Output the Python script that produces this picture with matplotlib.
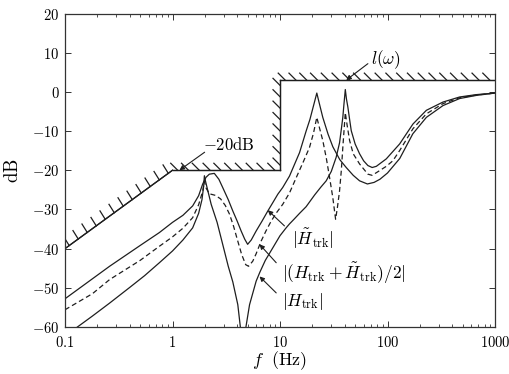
import matplotlib
matplotlib.use('Agg')
import matplotlib.pyplot as plt
from matplotlib import patheffects
import numpy as np

plt.rcParams['mathtext.fontset'] = 'cm'
plt.rcParams['font.family'] = 'serif'

# |H~_trk| (upper solid at low f)
htilde_f = [0.1, 0.26, 0.5, 0.755, 1.0, 1.25, 1.54, 1.75, 1.91, 2.05, 2.2, 2.45, 2.7, 2.93,
            3.3, 3.64, 4.0, 4.35, 4.7, 5.0, 5.4, 6.0, 6.8, 7.7, 8.6, 9.55, 10.6, 12.25, 15.2,
            17.5, 19.0, 20.2, 21.2, 22.0, 23.0, 25.0, 28.0, 31.0, 36.0, 41.3, 48.0, 55.0, 65.0,
            75.0, 85.0, 100.0, 130.0, 172.0, 230.0, 328.0, 469.0, 671.0, 1000.0]
htilde_db = [-52.8, -44.5, -39.2, -35.9, -33.3, -31.5, -29.1, -26.5, -23.5, -21.8, -21.0, -20.8,
             -22.3, -24.4, -27.5, -30.4, -33.0, -35.5, -37.6, -38.9, -37.8, -35.5, -33.0, -30.4,
             -28.2, -26.1, -24.4, -21.5, -15.5, -10.0, -7.0, -4.2, -2.0, -0.3, -2.5, -6.5, -10.8,
             -14.0, -17.3, -19.3, -21.3, -22.7, -23.5, -23.1, -22.3, -20.7, -17.0, -10.7, -6.5,
             -3.5, -1.7, -0.9, -0.3]

# |H_trk| (lower solid at low f, notch near 4.5 Hz)
h_f = [0.126, 0.18, 0.26, 0.4, 0.55, 0.755, 1.0, 1.25, 1.54, 1.75, 1.88, 1.95, 1.98, 2.02, 2.1,
       2.29, 2.6, 2.93, 3.3, 3.64, 4.05, 4.29, 4.55, 4.8, 5.21, 6.0, 6.5, 7.3, 8.57, 10.0, 11.4,
       12.25, 13.5, 15.2, 17.5, 21.0, 24.0, 26.9, 30.0, 33.3, 35.8, 37.2, 38.4, 39.3, 40.5, 41.5,
       42.8, 44.4, 46.0, 50.0, 55.0, 60.0, 65.7, 72.0, 78.7, 97.4, 129.6, 172.5, 230.0, 328.0,
       469.0, 671.0, 1000.0]
h_db = [-60.3, -57.2, -53.9, -49.9, -46.9, -43.6, -40.6, -37.8, -34.7, -31.0, -27.5, -24.0, -21.4,
        -22.6, -24.5, -28.7, -33.3, -38.9, -44.5, -48.5, -54.3, -60.3, -75.0, -60.3, -54.3, -48.3,
        -46.0, -43.0, -39.8, -36.7, -34.7, -33.7, -32.5, -31.0, -29.3, -26.3, -24.3, -22.7, -20.3,
        -16.7, -13.0, -9.5, -6.5, -3.3, 0.6, -1.8, -3.9, -7.0, -9.9, -13.3, -15.8, -17.6, -18.8,
        -19.3, -19.0, -17.1, -13.3, -8.2, -4.7, -2.6, -1.3, -0.7, -0.3]

# |(H_trk + H~_trk)/2| (dashed)
avg_f = [0.1, 0.18, 0.26, 0.5, 0.755, 1.0, 1.25, 1.54, 1.75, 1.91, 1.98, 2.05, 2.2, 2.5, 2.8, 3.1,
         3.39, 3.7, 4.05, 4.4, 4.8, 5.1, 5.58, 6.0, 6.67, 7.4, 8.27, 9.3, 10.6, 12.25, 14.2, 16.5,
         18.8, 20.5, 22.0, 23.2, 25.0, 27.0, 28.9, 31.0, 32.9, 34.2, 35.8, 37.2, 38.4, 39.5, 40.5,
         42.0, 44.4, 48.0, 55.0, 65.7, 72.0, 84.4, 97.4, 112.0, 129.6, 172.5, 230.0, 328.0, 469.0,
         671.0, 1000.0]
avg_db = [-55.6, -51.5, -47.9, -43.0, -39.4, -37.0, -34.8, -32.1, -28.8, -25.3, -22.8, -24.5,
          -26.0, -26.4, -27.3, -29.0, -31.2, -34.3, -38.1, -41.5, -44.1, -44.5, -43.2, -41.3,
          -38.1, -35.5, -33.0, -30.8, -28.7, -25.8, -21.8, -17.8, -14.2, -10.5, -6.5, -9.0, -12.4,
          -17.0, -21.8, -27.0, -32.5, -29.5, -25.3, -20.0, -14.2, -9.5, -5.3, -8.3, -12.4, -15.8,
          -18.4, -21.0, -21.3, -20.1, -19.0, -17.6, -15.0, -9.4, -5.6, -3.0, -1.5, -0.8, -0.3]

# bound l(w)
bound_f = [0.1, 1, 10, 10, 1000]
bound_db = [-40, -20, -20, 3, 3]

xticks = [0.1, 1, 10, 100, 1000]
xticklabels = ['$0.1$', '$1$', '$10$', '$100$', '$1000$']
yticks = [-60, -50, -40, -30, -20, -10, 0, 10, 20]
yticklabels = ['$-60$', '$-50$', '$-40$', '$-30$', '$-20$', '$-10$', '$0$', '$10$', '$20$']

ink = '#1e1e1e'

fig = plt.figure(figsize=(5.09, 3.74), dpi=100)
ax = fig.add_axes([65 / 509, 1 - 327 / 374, 430 / 509, 313.5 / 374])
ax.set_xscale('log')
ax.set_xlim(0.1, 1000)
ax.set_ylim(-60, 20)

ax.plot(htilde_f, htilde_db, color=ink, lw=0.9)
ax.plot(h_f, h_db, color=ink, lw=0.9)
ax.plot(avg_f, avg_db, color=ink, lw=0.9, dashes=(4, 2.5))

# hatched bound, one segment at a time so ticks keep the same slant
for i in range(len(bound_f) - 1):
    p0 = ax.transData.transform((bound_f[i], bound_db[i]))
    p1 = ax.transData.transform((bound_f[i + 1], bound_db[i + 1]))
    heading = np.degrees(np.arctan2(p1[1] - p0[1], p1[0] - p0[0]))
    tick_dir = 122 if i == 0 else 135
    ax.plot(bound_f[i:i + 2], bound_db[i:i + 2], color=ink, lw=0.9,
            solid_capstyle='projecting',
            path_effects=[patheffects.withTickedStroke(angle=tick_dir - heading, spacing=7.5,
                                                       length=0.95, linewidth=0.9,
                                                       foreground=ink),
                          patheffects.Normal()])

ax.set_xticks(xticks)
ax.set_xticklabels(xticklabels)
ax.set_yticks(yticks)
ax.set_yticklabels(yticklabels)
ax.tick_params(which='both', direction='in', top=True, right=True, labelsize=10.5, color='#333333')
ax.tick_params(which='major', length=4, width=0.7)
ax.tick_params(which='minor', length=2.5, width=0.6)
ax.tick_params(axis='x', pad=6)
ax.tick_params(axis='y', pad=4)
for s in ax.spines.values():
    s.set_linewidth(0.9)
    s.set_color('#333333')

ax.set_xlabel(r'$f\ \ \mathrm{(Hz)}$', fontsize=13)
ax.xaxis.set_label_coords(0.5, -0.07)
ax.set_ylabel(r'$\mathrm{dB}$', fontsize=13.5)
ax.yaxis.set_label_coords(-0.1, 0.5)

arrow = dict(arrowstyle='-|>', color=ink, lw=0.8, shrinkA=0, shrinkB=0, mutation_scale=7)

ax.annotate('', xy=(1.16, -20), xytext=(1.99, -15.4), arrowprops=arrow)
ax.text(1.92, -13.7, r'$-20\mathrm{dB}$', fontsize=12, ha='left', va='center')

ax.annotate('', xy=(41.3, 3), xytext=(65.7, 7.2), arrowprops=arrow)
ax.text(69.7, 8.3, r'$l(\omega)$', fontsize=12.5, ha='left', va='center')

ax.annotate('', xy=(7.7, -30.2), xytext=(11.0, -34.2), arrowprops=arrow)
ax.text(12.9, -37.6, r'$|\tilde{H}_{\mathrm{trk}}|$', fontsize=12.5, ha='left', va='center')

ax.annotate('', xy=(6.45, -38.9), xytext=(9.22, -43.6), arrowprops=arrow)
ax.text(10.4, -46.4, r'$|(H_{\mathrm{trk}}+\tilde{H}_{\mathrm{trk}})/2|$', fontsize=12.5,
        ha='left', va='center')

ax.annotate('', xy=(6.45, -47.1), xytext=(9.22, -51.3), arrowprops=arrow)
ax.text(10.4, -53.6, r'$|H_{\mathrm{trk}}|$', fontsize=12.5, ha='left', va='center')

fig.savefig('out.png', dpi=100)
